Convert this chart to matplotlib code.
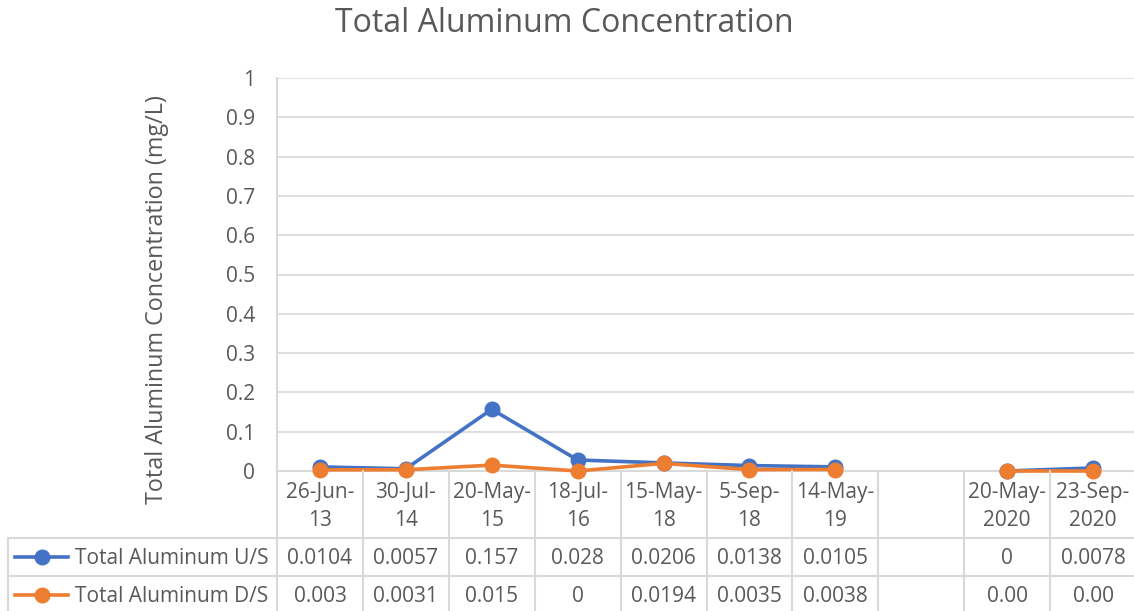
import numpy as np
import matplotlib
matplotlib.use("Agg")
import matplotlib.pyplot as plt
import matplotlib.transforms as mtransforms
from matplotlib.lines import Line2D

# ---- data ----
categories = ["26-Jun-13", "30-Jul-14", "20-May-15", "18-Jul-16", "15-May-18",
              "5-Sep-18", "14-May-19", "", "20-May-2020", "23-Sep-2020"]
us_values = [0.0104, 0.0057, 0.157, 0.028, 0.0206, 0.0138, 0.0105, np.nan, 0.0, 0.0078]
ds_values = [0.003, 0.0031, 0.015, 0.0, 0.0194, 0.0035, 0.0038, np.nan, 0.0, 0.0]
us_labels = ["0.0104", "0.0057", "0.157", "0.028", "0.0206", "0.0138", "0.0105", "", "0", "0.0078"]
ds_labels = ["0.003", "0.0031", "0.015", "0", "0.0194", "0.0035", "0.0038", "", "0.00", "0.00"]
series_names = ["Total Aluminum U/S", "Total Aluminum D/S"]
yticks = [0, 0.1, 0.2, 0.3, 0.4, 0.5, 0.6, 0.7, 0.8, 0.9, 1]
ytick_labels = ["0", "0.1", "0.2", "0.3", "0.4", "0.5", "0.6", "0.7", "0.8", "0.9", "1"]

BLUE = "#4472C4"
ORANGE = "#ED7D31"
TXT = "#595959"
GRID = "#D9D9D9"
FS = 15

plt.rcParams['font.family'] = ['Open Sans', 'DejaVu Sans']

W, H = 1134, 611
fig = plt.figure(figsize=(W / 100, H / 100), dpi=100)

def fx(px):
    return px / W

def fy(py):
    return 1 - py / H

left_px, right_px, top_px, bot_px = 277, 1136, 78, 471
ax = fig.add_axes([fx(left_px), fy(bot_px), fx(right_px - left_px), (bot_px - top_px) / H])

x = np.arange(len(categories))
ax.plot(x, us_values, color=BLUE, lw=2.6, marker="o", ms=10.5, zorder=3, clip_on=False)
ax.plot(x, ds_values, color=ORANGE, lw=2.6, marker="o", ms=10.5, zorder=4, clip_on=False)

ax.set_xlim(-0.5, len(categories) - 0.5)
ax.set_ylim(0, 1)
ax.set_yticks(yticks)
ax.set_yticklabels(ytick_labels, fontsize=FS, color=TXT)
ax.set_xticks([])
ax.tick_params(axis='y', length=0, pad=16)
ax.grid(axis='y', color=GRID, lw=1.2)
ax.set_axisbelow(True)
for s in ["top", "right"]:
    ax.spines[s].set_visible(False)
for s in ["left", "bottom"]:
    ax.spines[s].set_color(GRID)
    ax.spines[s].set_linewidth(1.5)

fig.text(fx(564), fy(23), "Total Aluminum Concentration", ha="center", va="center",
         fontsize=23, color=TXT)
fig.text(fx(157), fy(300), "Total Aluminum Concentration (mg/L)", ha="center", va="center",
         rotation=90, fontsize=16.8, color=TXT)

trans = mtransforms.blended_transform_factory(ax.transData, fig.transFigure)

# table grid lines
lkw = dict(color=GRID, lw=1.5, clip_on=False)
for i in range(len(categories) + 1):
    fig.add_artist(Line2D([i - 0.5, i - 0.5], [fy(bot_px), fy(H + 2)], transform=trans, **lkw))
for py in (537.5, 575.5):
    fig.add_artist(Line2D([fx(8), fx(W + 2)], [fy(py), fy(py)], transform=fig.transFigure, **lkw))
fig.add_artist(Line2D([fx(8), fx(8)], [fy(537.5), fy(H + 2)], transform=fig.transFigure, **lkw))

# category labels (wrapped at last hyphen)
for i, c in enumerate(categories):
    if not c:
        continue
    k = c.rfind("-")
    l1, l2 = c[:k + 1], c[k + 1:]
    ax.text(i, fy(498), l1, transform=trans, ha="center", va="baseline", fontsize=FS, color=TXT, clip_on=False)
    ax.text(i, fy(526.5), l2, transform=trans, ha="center", va="baseline", fontsize=FS, color=TXT, clip_on=False)

# value rows
for base_y, labels in ((564, us_labels), (602, ds_labels)):
    for i, t in enumerate(labels):
        if t:
            ax.text(i, fy(base_y), t, transform=trans, ha="center", va="baseline", fontsize=FS,
                    color=TXT, clip_on=False)

# legend keys in table
for base_y, col, name in ((564, BLUE, series_names[0]), (602, ORANGE, series_names[1])):
    row_y = base_y - 7.5
    fig.add_artist(Line2D([fx(15), fx(68)], [fy(row_y), fy(row_y)], transform=fig.transFigure,
                          color=col, lw=2.6))
    fig.add_artist(Line2D([fx(41.5)], [fy(row_y)], transform=fig.transFigure, color=col,
                          marker="o", ms=10.5, lw=0))
    fig.text(fx(75), fy(base_y), name, ha="left", va="baseline", fontsize=FS, color=TXT)

fig.savefig("out.png", dpi=100)
